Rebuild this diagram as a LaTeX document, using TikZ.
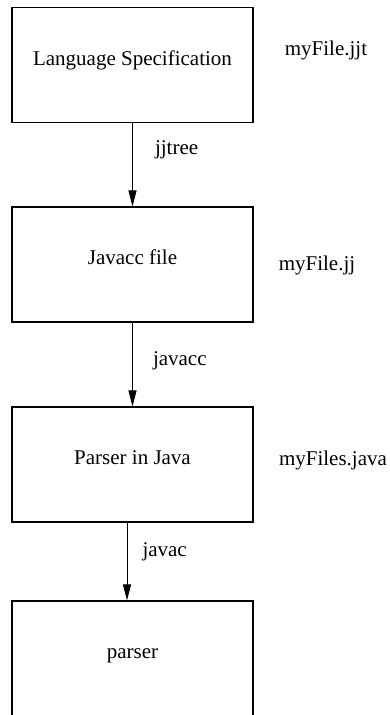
\documentclass[tikz,border=0pt]{standalone}
\usepackage{fontspec}
\setmainfont{Liberation Serif}
\usetikzlibrary{arrows.meta}
\begin{document}
\begin{tikzpicture}[x=1pt,y=-1pt,
  box/.style={draw, line width=1.1pt, minimum width=241pt, minimum height=115pt,
    inner sep=0pt, text height=12pt, text depth=12pt, font=\fontsize{21}{25}\selectfont},
  lbl/.style={font=\fontsize{21}{25}\selectfont, inner sep=0pt},
  arr/.style={line width=1pt, -{Triangle[length=16pt,width=8pt]}}]
\useasboundingbox (0,0) rectangle (390,715);
\clip (0,0) rectangle (390,715);
\node[box] (b1) at (132.5,65) {Language Specification};
\node[box] (b2) at (132.5,264.5) {Javacc file};
\node[box] (b3) at (132.5,464.5) {Parser in Java};
\node[box] (b4) at (132.5,658.5) {parser};
\node[lbl] (f1) at (326,50) {myFile.jjt};
\node[lbl] (f2) at (317,265) {myFile.jj};
\node[lbl] (f3) at (333,460) {myFiles.java};
\draw[arr] (b1.south) -- (b2.north) node[lbl, pos=0.32, right=22pt] (t1) {jjtree};
\draw[arr] (b2.south) -- (b3.north) node[lbl, pos=0.45, right=20pt] (t2) {javacc};
\draw[arr] ([xshift=-5.5pt]b3.south) -- ([xshift=-5.5pt]b4.north) node[lbl, pos=0.38, right=15pt] (t3) {javac};
\end{tikzpicture}
\end{document}
